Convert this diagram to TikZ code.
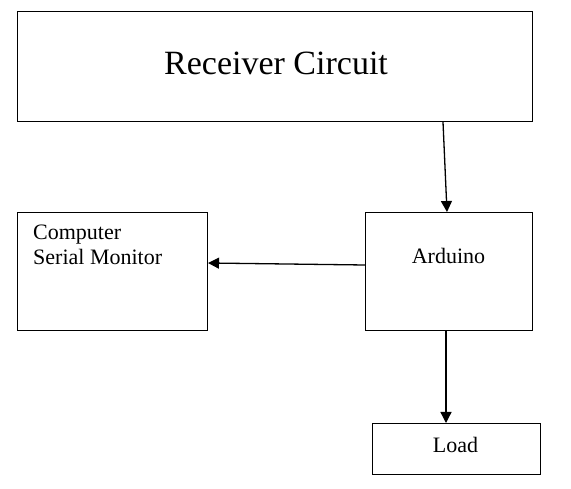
\documentclass[tikz,border=0pt]{standalone}
\usepackage{fontspec}
\setmainfont{Liberation Serif}
\usetikzlibrary{arrows.meta}
\begin{document}
\begin{tikzpicture}[x=1pt,y=-1pt,
  blk/.style={draw=black, line width=1pt, anchor=north west, inner sep=0pt},
  lbl/.style={anchor=base, inner sep=0pt, font=\fontsize{22}{26}\selectfont},
  arr/.style={line width=1.3pt, -{Triangle[width=11pt,length=11pt]}}]
\useasboundingbox (0,0) rectangle (571,489);
\node[blk, minimum width=515pt, minimum height=110pt] (rc) at (17,11) {};
\node[blk, minimum width=190pt, minimum height=118pt] (csm) at (17,212) {};
\node[blk, minimum width=167pt, minimum height=118pt] (ard) at (365,212) {};
\node[blk, minimum width=168pt, minimum height=51pt] (load) at (372,423) {};
\node[lbl, font=\fontsize{34}{40}\selectfont] (rct) at (276,75) {Receiver Circuit};
\node[lbl, anchor=base west] (c1) at (33,240) {Computer};
\node[lbl, anchor=base west] (c2) at (33,265) {Serial Monitor};
\node[lbl] (ardt) at (448.5,264) {Arduino};
\node[lbl] (loadt) at (455.5,452) {Load};
\draw[arr] ([xshift=426pt]rc.south west) -- ([xshift=82pt]ard.north west);
\draw[arr] ([yshift=-53pt]ard.north west) -- ([yshift=-51pt]csm.north east);
\draw[arr] ([xshift=81pt]ard.south west) -- ([xshift=74pt]load.north west);
\end{tikzpicture}
\end{document}
